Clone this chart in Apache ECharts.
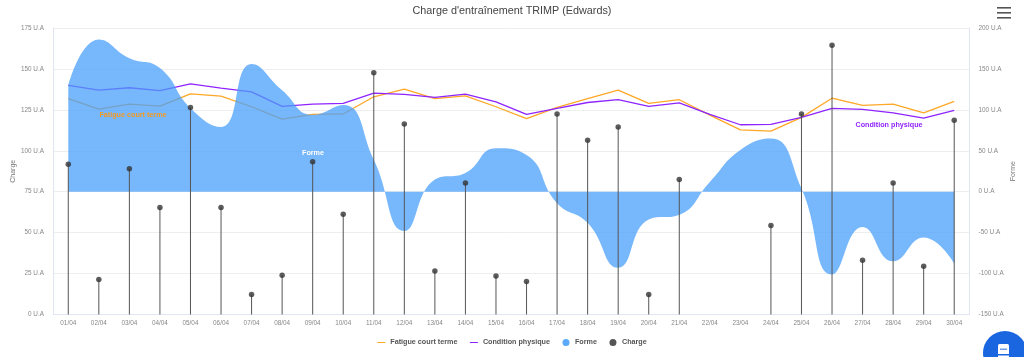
<!DOCTYPE html>
<html>
<head>
<meta charset="utf-8">
<style>html,body{margin:0;padding:0;background:#fff}#chart{width:1024px;height:357px}</style>
<script src="https://cdn.jsdelivr.net/npm/echarts@6/dist/echarts.min.js"></script>
</head>
<body>
<div id="chart"></div>
<script>
const days = ['01/04','02/04','03/04','04/04','05/04','06/04','07/04','08/04','09/04','10/04','11/04','12/04','13/04','14/04','15/04','16/04','17/04','18/04','19/04','20/04','21/04','22/04','23/04','24/04','25/04','26/04','27/04','28/04','29/04','30/04'];
const fatigue = [131.8,125.4,128.5,127.3,134.8,133.4,126.9,119.4,122.2,122.5,133,137.7,131.8,133.6,126.9,119.6,126.5,131.8,137,129,131.2,121.8,112.8,112,120.4,132.1,127.7,128.5,123.2,130.2];
const condition = [140,137,138.5,136.8,140.9,138.3,136,127.1,128.5,129,135.2,134.4,132.6,134.6,129.9,122.2,125.9,129.5,131.2,127.1,129.3,122.2,115.9,116.1,120.4,125.9,125.3,123.2,119.9,124.7];
const forme = [130,186,163,151,102,79,156,124,94,106,39,-48,15,23,53,45,-14,-38,-93,-34,-28,12,51,65,4,-101,-43,-85,-56,-88];
const charge = [91.7,21.4,89,65.4,126.5,65.4,12.2,24,93.3,61.3,147.6,116.3,26.5,80.3,23.5,20.2,122.4,106.5,114.5,12.2,82.5,null,null,54.4,122.4,164.4,33.2,80.3,29.4,118.6];

const chart = echarts.init(document.getElementById('chart'));
const font = '"Liberation Sans", Arial, sans-serif';
const axisLine = {show: true, lineStyle: {color: '#e0e6f1'}};
// thin dash in the middle of the legend box, the stray moves keep the box height
const dashIcon = 'path://M0,0L0,0ZM0,5.5H20V8.5H0ZM0,14L0,14Z';

chart.setOption({
    animation: false,
    textStyle: {fontFamily: font},
    title: {
        text: "Charge d'entraînement TRIMP (Edwards)",
        left: 'center', top: 1,
        textStyle: {fontSize: 10.8, fontWeight: 'normal', color: '#444', fontFamily: font}
    },
    legend: {
        bottom: 6, itemWidth: 8, itemHeight: 7, itemGap: 12.5,
        textStyle: {fontSize: 7.2, fontWeight: 'bold', color: '#555', fontFamily: font},
        data: [
            {name: 'Fatigue court terme', icon: dashIcon},
            {name: 'Condition physique', icon: dashIcon},
            {name: 'Forme', icon: 'circle'},
            {name: 'Charge', icon: 'circle'}
        ]
    },
    grid: {left: 53, right: 54.5, top: 28, bottom: 42.5, outerBoundsMode: 'none'},
    xAxis: {
        type: 'category', data: days,
        axisLine: axisLine, axisTick: {show: false},
        axisLabel: {fontSize: 6.4, color: '#888', interval: 0, margin: 6}
    },
    yAxis: [
        {
            type: 'value', min: 0, max: 175, interval: 25,
            name: 'Charge', nameLocation: 'middle', nameGap: 36, nameMoveOverlap: false,
            nameTextStyle: {fontSize: 7, color: '#777'},
            axisLine: axisLine,
            axisLabel: {fontSize: 6.4, color: '#888', formatter: '{value} U.A', margin: 9},
            splitLine: {lineStyle: {color: '#eee'}}
        },
        {
            type: 'value', min: -150, max: 200, interval: 50,
            name: 'Forme', nameLocation: 'middle', nameGap: 40, nameMoveOverlap: false,
            nameTextStyle: {fontSize: 7, color: '#777'},
            axisLine: axisLine,
            axisLabel: {fontSize: 6.4, color: '#888', formatter: '{value} U.A', margin: 9},
            splitLine: {show: false}
        }
    ],
    series: [
        {
            name: 'Fatigue court terme', type: 'line', data: fatigue, yAxisIndex: 0,
            symbol: 'none', z: 2,
            itemStyle: {color: '#ffa726'}, lineStyle: {width: 1.3, color: '#ffa726'}
        },
        {
            name: 'Condition physique', type: 'line', data: condition, yAxisIndex: 0,
            symbol: 'none', z: 2,
            itemStyle: {color: '#8e24ff'}, lineStyle: {width: 1.3, color: '#8e24ff'}
        },
        {
            name: 'Forme', type: 'line', data: forme, yAxisIndex: 1,
            smooth: 0.5, showSymbol: false, z: 3,
            itemStyle: {color: '#5aa9fb'},
            lineStyle: {width: 0},
            areaStyle: {color: '#4a9ffa', opacity: 0.75}
        },
        {
            name: 'Charge', type: 'bar', data: charge, yAxisIndex: 0,
            barWidth: 1, z: 4, legendHoverLink: false,
            itemStyle: {color: '#555'}
        },
        {
            name: 'Charge', type: 'scatter', data: charge, yAxisIndex: 0,
            symbolSize: 5.5, z: 5,
            itemStyle: {color: '#333'}
        }
    ],
    graphic: [
        {type: 'text', x: 133, y: 115.5, z: 10, style: {text: 'Fatigue court terme', fill: '#f59a1f', font: 'bold 7.2px ' + font, align: 'center', verticalAlign: 'middle'}},
        {type: 'text', x: 313, y: 153.5, z: 10, style: {text: 'Forme', fill: '#fff', font: 'bold 7.2px ' + font, align: 'center', verticalAlign: 'middle'}},
        {type: 'text', x: 889, y: 125, z: 10, style: {text: 'Condition physique', fill: '#8e24ff', font: 'bold 7.2px ' + font, align: 'center', verticalAlign: 'middle'}},
        {type: 'rect', shape: {x: 997, y: 7, width: 14, height: 1.6}, style: {fill: '#555'}},
        {type: 'rect', shape: {x: 997, y: 12, width: 14, height: 1.6}, style: {fill: '#555'}},
        {type: 'rect', shape: {x: 997, y: 17, width: 14, height: 1.6}, style: {fill: '#555'}},
        {type: 'circle', shape: {cx: 1005, cy: 353, r: 22}, style: {fill: '#1a66e0'}},
        {type: 'rect', shape: {x: 998, y: 344, width: 11, height: 14, r: 1.5}, style: {fill: '#fff'}},
        {type: 'rect', shape: {x: 1000, y: 348.5, width: 7, height: 1.5}, style: {fill: '#6f9fe8'}},
        {type: 'rect', shape: {x: 998, y: 354, width: 11, height: 1.5}, style: {fill: '#1a66e0'}}
    ]
});
</script>
</body>
</html>
